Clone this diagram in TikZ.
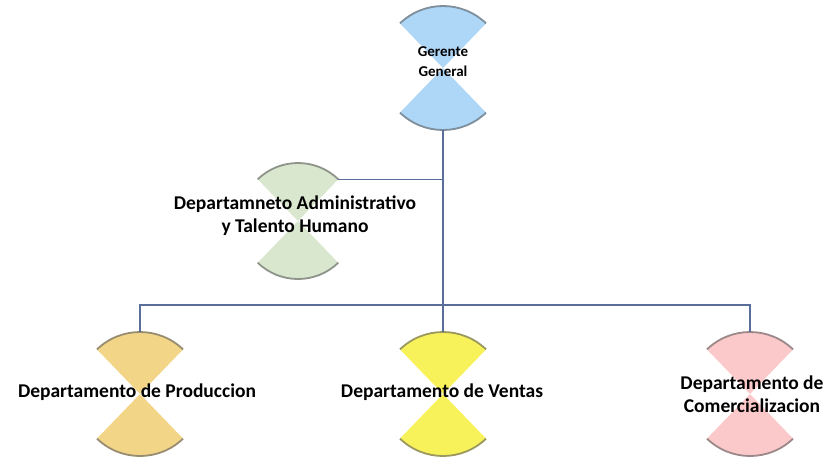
\documentclass[tikz,border=0pt]{standalone}
\usepackage{fontspec}
\setmainfont{Carlito}
\usetikzlibrary{calc}
\definecolor{linkblue}{HTML}{5A6E9A}
\definecolor{gerblue}{HTML}{AED6F6}
\definecolor{admgreen}{HTML}{D9E7CF}
\definecolor{prodgold}{HTML}{F3D588}
\definecolor{ventyellow}{HTML}{F8F25A}
\definecolor{compink}{HTML}{FCC9CA}
\tikzset{
  deptlabel/.style={font=\bfseries\fontsize{19.5}{23}\selectfont, align=center, inner sep=0pt},
  toplabel/.style={font=\bfseries\fontsize{15}{20}\selectfont, align=center, inner sep=0pt},
}
\def\linkdraw{\draw[color=linkblue, line width=1.3pt]}
% two sectors meeting at #1, radius #2, colour #3, name #4
\def\sectorpair#1#2#3#4{%
  \fill[#3] (#1) -- ++(226:#2) arc[start angle=226, end angle=314, radius=#2] -- cycle;
  \fill[#3] (#1) -- ++(46:#2) arc[start angle=46, end angle=134, radius=#2] -- cycle;
  \draw[#3!45!gray!85!black, line width=1.8pt] ($(#1)+(226:#2)$) arc[start angle=226, end angle=314, radius=#2];
  \draw[#3!45!gray!85!black, line width=1.8pt] ($(#1)+(46:#2)$) arc[start angle=46, end angle=134, radius=#2];
  \coordinate (#4-top) at ($(#1)+(270:#2)$);
  \coordinate (#4-bot) at ($(#1)+(90:#2)$);
  \coordinate (#4-ne) at ($(#1)+(314:#2)$);
}

\begin{document}
\begin{tikzpicture}[x=1pt,y=1pt,yscale=-1]
\useasboundingbox (0,0) rectangle (826,459);
\sectorpair{443,68}{62}{gerblue}{ger}
\sectorpair{298,221}{58}{admgreen}{adm}
\sectorpair{140,394}{62}{prodgold}{prod}
\sectorpair{443,394}{62}{ventyellow}{vent}
\sectorpair{750,394}{62}{compink}{com}
\node[toplabel] (ger) at (443,62) {Gerente\\General};
\node[deptlabel] (adm) at (295,216) {Departamneto Administrativo\\y Talento Humano};
\node[deptlabel] (prod) at (137,392) {Departamento de Produccion};
\node[deptlabel] (vent) at (442,392) {Departamento de Ventas};
\node[deptlabel] (com) at (752,394) {Departamento de\\Comercializacion};
\coordinate (busmid) at (443,305);
\linkdraw (ger-bot) -- (busmid);
\linkdraw (adm-ne) -- (ger-bot |- adm-ne);
\linkdraw (prod-top) |- (busmid) -| (com-top);
\linkdraw (busmid) -- (vent-top);
\end{tikzpicture}
\end{document}
